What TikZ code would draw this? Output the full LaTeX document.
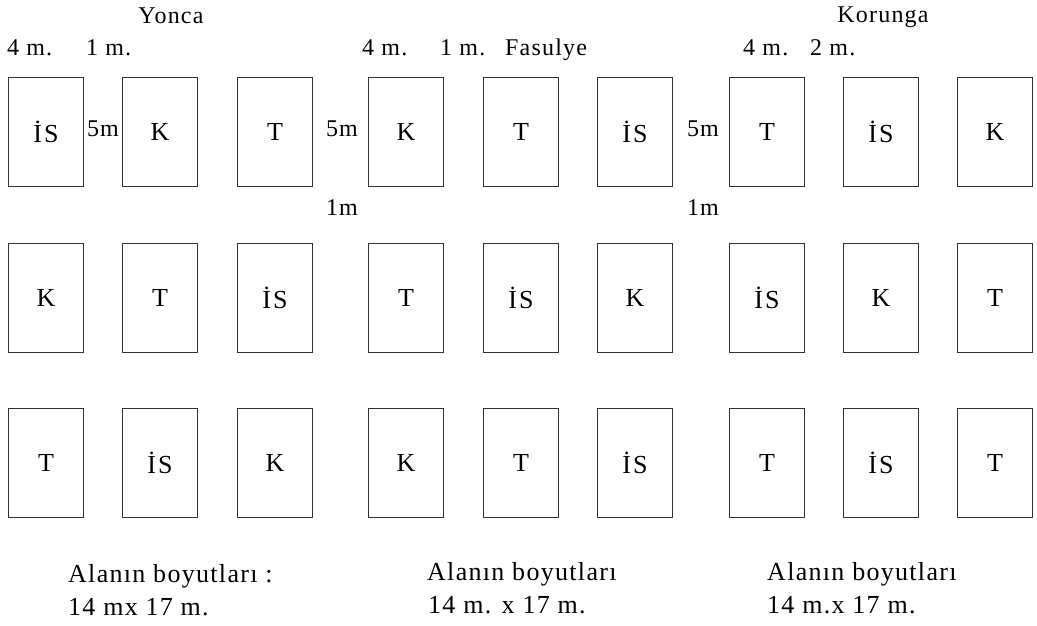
\documentclass[tikz,border=0pt]{standalone}
\usepackage{fontspec}
\setmainfont{Liberation Serif}
\newfontfamily\spaced[LetterSpace=5]{Liberation Serif}
\newfontfamily\wide[LetterSpace=8]{Liberation Serif}
\begin{document}
\begin{tikzpicture}[x=1pt,y=-1pt,
  plot/.style={draw=black!80, line width=1pt, minimum width=75pt, minimum height=109pt,
    anchor=north west, inner sep=0pt, font=\wide\fontsize{26}{30}\selectfont},
  lbl/.style={inner sep=0pt, font=\spaced\fontsize{24}{28}\selectfont},
  foot/.style={inner sep=0pt, anchor=base west, font=\spaced\fontsize{26}{30}\selectfont}]
\useasboundingbox (0,0) rectangle (1037,625);
% row 1
\node[plot] (a1) at (8,77) {İS};
\node[plot] (a2) at (122,77) {K};
\node[plot] (a3) at (237,77) {T};
\node[plot] (a4) at (368,77) {K};
\node[plot] (a5) at (483,77) {T};
\node[plot] (a6) at (597,77) {İS};
\node[plot] (a7) at (729,77) {T};
\node[plot] (a8) at (843,77) {İS};
\node[plot] (a9) at (957,77) {K};
% row 2
\node[plot] (b1) at (8,243) {K};
\node[plot] (b2) at (122,243) {T};
\node[plot] (b3) at (237,243) {İS};
\node[plot] (b4) at (368,243) {T};
\node[plot] (b5) at (483,243) {İS};
\node[plot] (b6) at (597,243) {K};
\node[plot] (b7) at (729,243) {İS};
\node[plot] (b8) at (843,243) {K};
\node[plot] (b9) at (957,243) {T};
% row 3
\node[plot] (c1) at (8,408) {T};
\node[plot] (c2) at (122,408) {İS};
\node[plot] (c3) at (237,408) {K};
\node[plot] (c4) at (368,408) {K};
\node[plot] (c5) at (483,408) {T};
\node[plot] (c6) at (597,408) {İS};
\node[plot] (c7) at (729,408) {T};
\node[plot] (c8) at (843,408) {İS};
\node[plot] (c9) at (957,408) {T};
% titles
\node[lbl, anchor=base] (t1) at (171,23) {Yonca};
\node[lbl, anchor=base] (t3) at (883,22) {Korunga};
\node[lbl, anchor=base west] (d1) at (7,55) {4 m.};
\node[lbl, anchor=base west] (d2) at (86,55) {1 m.};
\node[lbl, anchor=base west] (d3) at (362,55) {4 m.};
\node[lbl, anchor=base west] (d4) at (440,55) {1 m.};
\node[lbl, anchor=base west] (t2) at (505,55) {Fasulye};
\node[lbl, anchor=base west] (d5) at (743,55) {4 m.};
\node[lbl, anchor=base west] (d6) at (810,55) {2 m.};
% 5m / 1m
\node[lbl, anchor=base] (f1) at (103,136) {5m};
\node[lbl, anchor=base] (f2) at (342,136) {5m};
\node[lbl, anchor=base] (f3) at (703,136) {5m};
\node[lbl, anchor=base] (g1) at (342,215) {1m};
\node[lbl, anchor=base] (g2) at (703,215) {1m};
% footers
\node[foot] (h1) at (68,582) {Alanın boyutları :};
\node[foot] (h2) at (68,615) {14 mx 17 m.};
\node[foot] (h3) at (427,580) {Alanın boyutları};
\node[foot] (h4) at (428,613) {14 m. x 17 m.};
\node[foot] (h5) at (767,580) {Alanın boyutları};
\node[foot] (h6) at (767,613) {14 m.x 17 m.};
\end{tikzpicture}
\end{document}
